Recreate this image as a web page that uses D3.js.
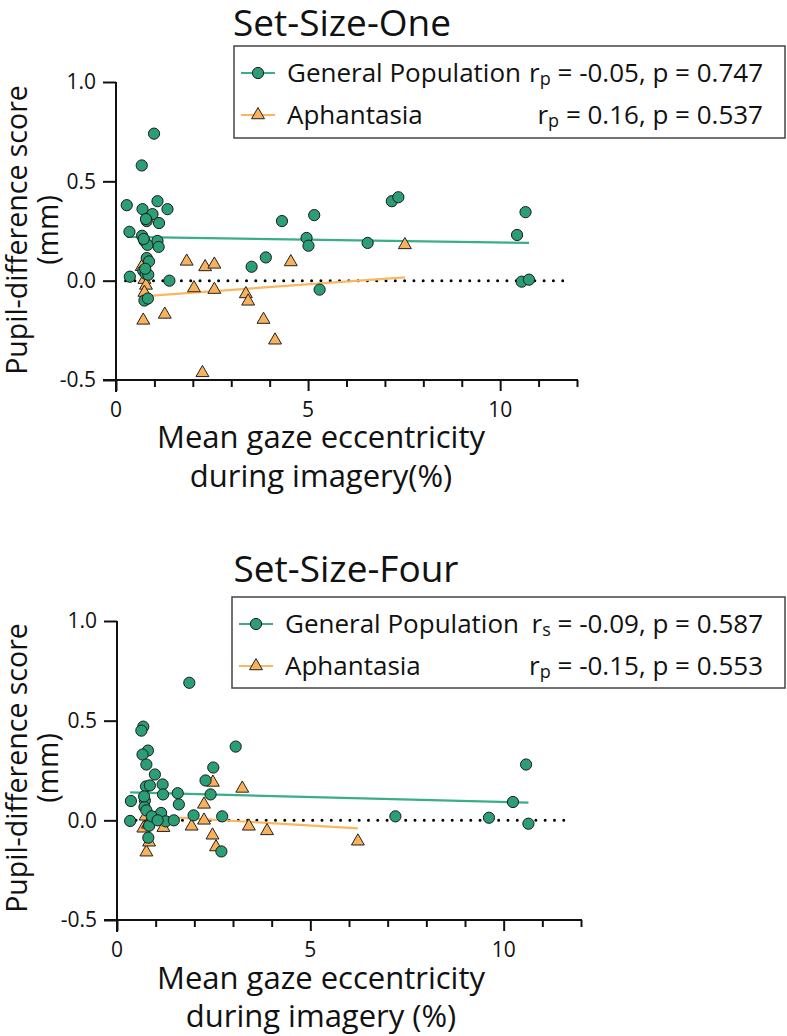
<!DOCTYPE html>
<html><head><meta charset="utf-8">
<script src="https://cdn.jsdelivr.net/npm/d3@7"></script>
<style>
body{margin:0;background:#fff}
svg{display:block}
text{font-family:"Open Sans","Noto Sans",sans-serif;fill:#111}
</style>
</head><body>
<svg id="chart" width="787" height="1036"></svg>
<script>
// ---------- data ----------
const panelTitles = ["Set-Size-One", "Set-Size-Four"];
const seriesNames = ["General Population", "Aphantasia"];
const statSub = [["p", "p"], ["s", "p"]];
const statRest = [[" = -0.05, p = 0.747", " = 0.16, p = 0.537"], [" = -0.09, p = 0.587", " = -0.15, p = 0.553"]];
const xTickValues = [0,1,2,3,4,5,6,7,8,9,10,11,12];
const xTickLabels = {0:"0", 5:"5", 10:"10"};
const yTickValues = [-0.5, 0, 0.5, 1.0];
const yTickLabels = ["-0.5", "0.0", "0.5", "1.0"];
const yLabel = ["Pupil-difference score", "(mm)"];
const xLabels = [["Mean gaze eccentricity", "during imagery(%)"], ["Mean gaze eccentricity", "during imagery (%)"]];

// Set-Size-One
const oneGenX = [0.99,0.67,0.28,0.69,1.08,1.34,0.95,0.80,1.12,0.35,0.68,0.74,0.82,1.08,1.11,0.80,0.86,0.36,0.71,0.77,0.84,1.39,0.74,0.83,3.53,3.90,4.32,5.16,4.96,5.01,5.30,6.55,7.18,7.35,10.44,10.66,10.56,10.75,0.78,0.72,0.76];
const oneGenY = [0.74,0.58,0.38,0.36,0.40,0.36,0.335,0.30,0.29,0.246,0.226,0.20,0.18,0.20,0.17,0.114,0.097,0.02,0.05,0.035,0.03,0.0,-0.10,-0.09,0.07,0.117,0.30,0.33,0.215,0.176,-0.045,0.19,0.40,0.42,0.23,0.345,-0.005,0.005,0.31,0.21,0.06];
const oneAphX = [1.84,2.32,2.56,4.55,2.03,2.56,3.38,3.44,1.27,0.71,3.84,4.14,2.25,0.67,0.74,0.78,0.74,7.52];
const oneAphY = [0.097,0.069,0.082,0.094,-0.037,-0.045,-0.067,-0.104,-0.17,-0.20,-0.196,-0.30,-0.464,0.07,0.005,-0.024,-0.06,0.18];
const oneGenFitX = [0.28, 10.75], oneGenFitY = [0.22, 0.19];
const oneAphFitX = [0.67, 7.52], oneAphFitY = [-0.079, 0.017];

// Set-Size-Four
const fourGenX = [1.87,0.68,0.63,3.07,0.80,0.66,0.76,2.49,0.98,2.29,1.18,0.75,0.85,1.19,1.57,2.42,0.36,0.72,1.60,0.71,0.76,1.14,1.98,2.72,0.34,0.83,1.26,1.47,0.81,2.70,10.58,10.24,7.20,9.62,10.64,0.70,0.90,1.05];
const fourGenY = [0.69,0.47,0.45,0.37,0.35,0.33,0.28,0.265,0.23,0.20,0.18,0.17,0.175,0.13,0.136,0.13,0.097,0.10,0.08,0.067,0.05,0.037,0.025,0.02,-0.003,-0.027,-0.005,0.0,-0.087,-0.156,0.28,0.092,0.02,0.013,-0.017,0.12,0.02,0.0];
const fourAphX = [2.48,3.24,2.25,2.25,1.93,1.20,3.41,3.88,2.47,2.56,0.76,0.68,0.83,6.23,0.74,0.80];
const fourAphY = [0.19,0.16,0.08,0.0,-0.03,-0.037,-0.03,-0.053,-0.075,-0.134,-0.16,-0.04,-0.11,-0.105,0.02,-0.02];
const fourGenFitX = [0.34, 10.64], fourGenFitY = [0.14, 0.089];
const fourAphFitX = [0.68, 6.23], fourAphFitY = [0.024, -0.04];

// ---------- style ----------
const genFill = "#2b9e76", aphFill = "#f9b25c";
const genLine = "#3aae86", aphLine = "#fbb660";

const svg = d3.select("#chart");
const zip = (a, b) => a.map((v, i) => [v, b[i]]);

const panels = [
  {title: panelTitles[0], titleY: 36, titleX: 342,
   xr: [116, 577], yr: [380, 82],
   gen: zip(oneGenX, oneGenY), aph: zip(oneAphX, oneAphY),
   genFit: zip(oneGenFitX, oneGenFitY), aphFit: zip(oneAphFitX, oneAphFitY),
   legend: {x0: 234, y0: 46, x1: 785, y1: 138, b1: 82, b2: 124},
   stats: 0, xl: xLabels[0], xlY: [448, 487], tickY: 417, ylC: 230},
  {title: panelTitles[1], titleY: 582, titleX: 346,
   xr: [117, 581], yr: [920, 621],
   gen: zip(fourGenX, fourGenY), aph: zip(fourAphX, fourAphY),
   genFit: zip(fourGenFitX, fourGenFitY), aphFit: zip(fourAphFitX, fourAphFitY),
   legend: {x0: 232, y0: 597, x1: 785, y1: 688, b1: 633, b2: 675},
   stats: 1, xl: xLabels[1], xlY: [989, 1027], tickY: 957, ylC: 768}
];

const tri = d3.symbol().type(d3.symbolTriangle).size(72);

panels.forEach(p => {
  const g = svg.append("g");
  const x = d3.scaleLinear().domain([0, 12]).range(p.xr);
  const y = d3.scaleLinear().domain([-0.5, 1.0]).range(p.yr);

  // title
  g.append("text").attr("x", p.titleX).attr("y", p.titleY).attr("text-anchor", "middle")
    .attr("font-size", 37).text(p.title);

  // axes lines
  g.append("line").attr("x1", x(0)).attr("x2", x(0)).attr("y1", y(1.0)).attr("y2", y(-0.5) + 12)
    .attr("stroke", "#111").attr("stroke-width", 2);
  g.append("line").attr("x1", x(0) - 13).attr("x2", x(12) + 1).attr("y1", y(-0.5)).attr("y2", y(-0.5))
    .attr("stroke", "#111").attr("stroke-width", 2);

  // y axis ticks
  const ya = d3.axisLeft(y).tickValues(yTickValues).tickSize(13).tickPadding(7)
    .tickFormat((d, i) => yTickLabels[i]);
  const yg = g.append("g").attr("transform", `translate(${x(0)},0)`).call(ya);
  yg.select(".domain").remove();
  yg.selectAll(".tick line").attr("stroke", "#111").attr("stroke-width", 2);
  yg.selectAll(".tick text").attr("font-size", 21).attr("fill", "#111")
    .style("font-family", '"Open Sans",sans-serif');

  // x axis ticks
  const xa = d3.axisBottom(x).tickValues(xTickValues).tickSize(7).tickFormat(() => "");
  const xg = g.append("g").attr("transform", `translate(0,${y(-0.5)})`).call(xa);
  xg.select(".domain").remove();
  xg.selectAll(".tick line").attr("stroke", "#111").attr("stroke-width", 2)
    .attr("y2", d => (d % 5 === 0 ? 11 : 7));
  xTickValues.filter(v => xTickLabels[v] !== undefined).forEach(v => {
    g.append("text").attr("x", x(v)).attr("y", p.tickY).attr("text-anchor", "middle")
      .attr("font-size", 21).text(xTickLabels[v]);
  });

  // axis labels
  g.append("text").attr("transform", `translate(27,${p.ylC}) rotate(-90)`).attr("text-anchor", "middle")
    .attr("font-size", 28.5).text(yLabel[0]);
  g.append("text").attr("transform", `translate(58,${p.ylC}) rotate(-90)`).attr("text-anchor", "middle")
    .attr("font-size", 28.5).text(yLabel[1]);
  g.append("text").attr("x", 321).attr("y", p.xlY[0]).attr("text-anchor", "middle")
    .attr("font-size", 31).text(p.xl[0]);
  g.append("text").attr("x", 321).attr("y", p.xlY[1]).attr("text-anchor", "middle")
    .attr("font-size", 31).text(p.xl[1]);

  // zero reference dotted line
  g.append("line").attr("x1", x(0.25)).attr("x2", x(11.75)).attr("y1", y(0)).attr("y2", y(0))
    .attr("stroke", "#000").attr("stroke-width", 3).attr("stroke-linecap", "round")
    .attr("stroke-dasharray", "0,9.3");

  // fit lines
  const line = d3.line().x(d => x(d[0])).y(d => y(d[1]));
  g.append("path").datum(p.genFit).attr("d", line).attr("fill", "none")
    .attr("stroke", genLine).attr("stroke-width", 2.2);
  g.append("path").datum(p.aphFit).attr("d", line).attr("fill", "none")
    .attr("stroke", aphLine).attr("stroke-width", 2.2);

  // points
  g.append("g").selectAll("path").data(p.aph).join("path")
    .attr("d", tri).attr("transform", d => `translate(${x(d[0])},${y(d[1])})`)
    .attr("fill", aphFill).attr("stroke", "#222").attr("stroke-width", 1);
  g.append("g").selectAll("circle").data(p.gen).join("circle")
    .attr("cx", d => x(d[0])).attr("cy", d => y(d[1])).attr("r", 5.6)
    .attr("fill", genFill).attr("stroke", "#1a1a1a").attr("stroke-width", 1);

  // legend
  const L = p.legend;
  g.append("rect").attr("x", L.x0).attr("y", L.y0).attr("width", L.x1 - L.x0).attr("height", L.y1 - L.y0)
    .attr("fill", "#fff").attr("stroke", "#444").attr("stroke-width", 1.5);
  const rows = [L.b1, L.b2];
  rows.forEach((b, i) => {
    const cy = b - 9;
    g.append("line").attr("x1", L.x0 + 7).attr("x2", L.x0 + 41).attr("y1", cy).attr("y2", cy)
      .attr("stroke", i === 0 ? genLine : aphLine).attr("stroke-width", 2.2);
    if (i === 0) {
      g.append("circle").attr("cx", L.x0 + 24).attr("cy", cy).attr("r", 5.6)
        .attr("fill", genFill).attr("stroke", "#1a1a1a").attr("stroke-width", 1);
    } else {
      g.append("path").attr("d", tri).attr("transform", `translate(${L.x0 + 24},${cy})`)
        .attr("fill", aphFill).attr("stroke", "#222").attr("stroke-width", 1);
    }
    g.append("text").attr("x", L.x0 + 53).attr("y", b).attr("font-size", 26).text(seriesNames[i]);
    const t = g.append("text").attr("x", 763).attr("y", b).attr("text-anchor", "end").attr("font-size", 26);
    t.append("tspan").text("r");
    t.append("tspan").attr("font-size", 18).attr("dy", 3).text(statSub[p.stats][i]);
    t.append("tspan").attr("dy", -3).text(statRest[p.stats][i]);
  });
});
</script>
</body></html>
